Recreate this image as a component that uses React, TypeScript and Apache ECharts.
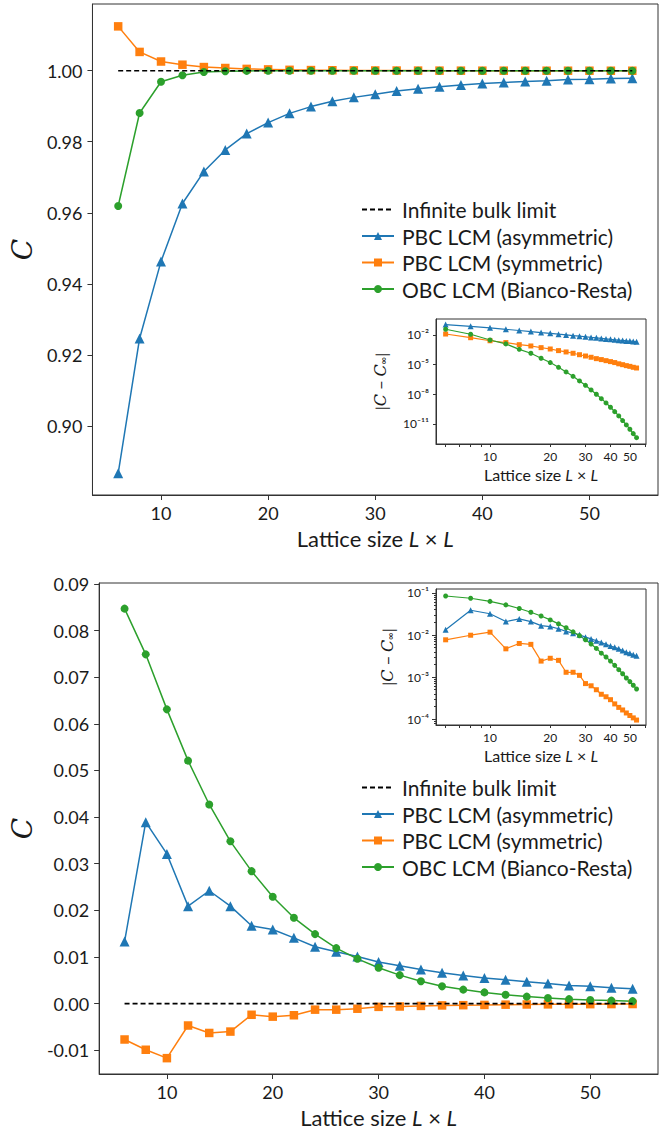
import React, { useEffect, useRef } from "react";
import * as echarts from "echarts";

// ---------- data ----------
const L = [6, 8, 10, 12, 14, 16, 18, 20, 22, 24, 26, 28, 30, 32, 34, 36, 38, 40, 42, 44, 46, 48, 50, 52, 54];

const C_INF_TOP = 1;
const topAsymDev = [0.1134, 0.0754, 0.0537, 0.0374, 0.0284, 0.0223, 0.0177, 0.0146, 0.012, 0.0101, 0.0086, 0.0075, 0.0066, 0.0057, 0.0051, 0.0045, 0.004, 0.0036, 0.0033, 0.003, 0.0028, 0.0025, 0.0024, 0.0022, 0.0021];
const topSymDev = [0.0125, 0.0053, 0.0026, 0.0017, 0.00104, 0.00077, 0.00052, 0.00038, 0.00026, 0.00019, 0.00014, 0.0001, 7.4e-5, 5.5e-5, 4.0e-5, 3.2e-5, 2.5e-5, 2.0e-5, 1.6e-5, 1.2e-5, 9.8e-6, 7.8e-6, 6.6e-6, 5.3e-6, 4.5e-6];
const topObcDev = [0.0381, 0.0119, 0.0031, 1.25e-3, 3.5e-4, 1.4e-4, 4.4e-5, 1.6e-5, 5.3e-6, 1.8e-6, 6.5e-7, 2.2e-7, 7.9e-8, 2.7e-8, 9.8e-9, 3.5e-9, 1.3e-9, 4.7e-10, 1.7e-10, 6.2e-11, 2.1e-11, 7.6e-12, 2.8e-12, 1.0e-12, 3.9e-13];

// Bottom panel: bulk limit C_inf = 0
const C_INF_BOTTOM = 0;
const bottomAsym = [0.0133, 0.0389, 0.0321, 0.0209, 0.0242, 0.0209, 0.0167, 0.0159, 0.0141, 0.0122, 0.0111, 0.0101, 0.0089, 0.0081, 0.0073, 0.0066, 0.006, 0.0055, 0.0051, 0.0047, 0.0043, 0.0039, 0.0037, 0.0034, 0.0032];
const bottomSym = [-0.0077, -0.0099, -0.0117, -0.0047, -0.0063, -0.006, -0.0024, -0.0028, -0.0025, -0.0013, -0.0013, -0.0011, -0.0007, -0.00062, -0.0005, -0.00039, -0.00034, -0.00029, -0.00023, -0.00019, -0.000165, -0.00014, -0.000122, -0.000107, -0.000095];
const bottomObc = [0.0847, 0.0749, 0.0631, 0.0521, 0.0427, 0.0348, 0.0284, 0.0229, 0.0184, 0.0149, 0.0119, 0.0096, 0.0077, 0.0061, 0.0048, 0.0037, 0.003, 0.0024, 0.0019, 0.0015, 0.0012, 0.00095, 0.00078, 0.00064, 0.00052];

// tick labels
const mainXTicks = [10, 20, 30, 40, 50];
const topYTicks = [0.9, 0.92, 0.94, 0.96, 0.98, 1.0];
const bottomYTicks = [-0.01, 0, 0.01, 0.02, 0.03, 0.04, 0.05, 0.06, 0.07, 0.08, 0.09];
const insetXLabels = [10, 20, 30, 40, 50];
const insetXTicks = [6, 7, 8, 9, 10, 20, 30, 40, 50, 60];
const topInsetYTicks = [1e-11, 1e-8, 1e-5, 1e-2];
const bottomInsetYTicks = [1e-4, 1e-3, 1e-2, 1e-1];

const NAMES = ["Infinite bulk limit", "PBC LCM (asymmetric)", "PBC LCM (symmetric)", "OBC LCM (Bianco-Resta)"];
const COLORS = ["#000000", "#1f77b4", "#ff7f0e", "#2ca02c"];

// ---------- helpers ----------
const FONT = "Lato";
const TXT = "#1a1a1a";
const AX = "#333333";
const SUP: Record<string, string> = { "-": "⁻", "0": "⁰", "1": "¹", "2": "²", "3": "³", "4": "⁴", "5": "⁵", "6": "⁶", "7": "⁷", "8": "⁸", "9": "⁹" };
const pow10Label = (v: number) => "10" + String(Math.round(Math.log10(v))).split("").map((c) => SUP[c] || c).join("");

const minorLogTicks = (() => {
  const out: number[] = [];
  for (let k = -5; k <= -1; k++) for (let m = 2; m <= 9; m++) out.push(m * Math.pow(10, k));
  return out;
})();

const xName = "Lattice size {i|L} × {i|L}";

function mainXAxis(gridIndex: number) {
  return {
    type: "value",
    gridIndex,
    min: 3.6,
    max: 56.4,
    axisLine: { show: true, onZero: false, lineStyle: { color: AX, width: 1 } },
    axisTick: { show: true, length: 5, customValues: mainXTicks, lineStyle: { color: AX } },
    axisLabel: { customValues: mainXTicks, fontSize: 18, color: TXT, margin: 9, fontFamily: FONT },
    splitLine: { show: false },
    name: xName,
    nameLocation: "middle",
    nameGap: 32,
    nameTextStyle: { fontSize: 22, color: TXT, fontFamily: FONT, rich: { i: { fontSize: 22, fontStyle: "italic", color: TXT, fontFamily: FONT } } },
  };
}

function insetXAxis(gridIndex: number) {
  return {
    type: "log",
    gridIndex,
    min: 5.37,
    max: 60.2,
    axisLine: { show: true, onZero: false, lineStyle: { color: AX, width: 1 } },
    axisTick: { show: true, length: 3, customValues: insetXTicks, lineStyle: { color: AX } },
    axisLabel: { customValues: insetXLabels, fontSize: 12, color: TXT, margin: 6, fontFamily: FONT, formatter: (v: number) => String(Math.round(v)) },
    splitLine: { show: false },
    minorTick: { show: false },
    name: xName,
    nameLocation: "middle",
    nameGap: 22,
    nameTextStyle: { fontSize: 16, color: TXT, fontFamily: FONT, rich: { i: { fontSize: 16, fontStyle: "italic", color: TXT, fontFamily: FONT } } },
  };
}

const yNameMain = {
  name: "C",
  nameLocation: "middle",
  nameRotate: 90,
  nameGap: 56,
  nameTextStyle: { fontSize: 28, fontStyle: "italic", color: TXT, fontFamily: "DejaVu Serif" },
};

const yNameInset = {
  name: "|{i|C} − {i|C}{s|∞}|",
  nameLocation: "middle",
  nameRotate: 90,
  nameTextStyle: {
    fontSize: 16,
    color: TXT,
    fontFamily: FONT,
    rich: {
      i: { fontSize: 16, fontStyle: "italic", fontFamily: "DejaVu Serif", color: TXT },
      s: { fontSize: 10, color: TXT, fontFamily: FONT, verticalAlign: "bottom", padding: [6, 0, 0, 0] },
    },
  },
};

function lineSeries(name: string, idx: number, xi: number, yi: number, data: number[][], inset: boolean) {
  const sym = ["none", "triangle", "rect", "circle"][idx];
  const size = inset ? [0, 6, 5, 5][idx] : [0, 10, 8.5, 8][idx];
  return {
    type: "line",
    name,
    xAxisIndex: xi,
    yAxisIndex: yi,
    data,
    symbol: sym,
    symbolSize: size,
    showSymbol: idx !== 0,
    z: idx === 0 ? 4 : 3,
    lineStyle: idx === 0 ? { color: COLORS[0], width: 1.6, type: [5, 3] } : { color: COLORS[idx], width: inset ? 1.2 : 1.5 },
    itemStyle: { color: COLORS[idx] },
    emphasis: { disabled: true },
    clip: false,
  };
}

function legendOpt(top: number) {
  return {
    orient: "vertical",
    left: 356,
    top,
    itemWidth: 32,
    itemHeight: 10,
    itemGap: 5.5,
    selectedMode: false,
    textStyle: { fontSize: 21, color: TXT, fontFamily: FONT, padding: [0, 0, 0, 3] },
    data: NAMES.map((n, i) => (i === 0 ? { name: n, itemStyle: { opacity: 0 } } : { name: n })),
  };
}

export default function App() {
  const ref = useRef<HTMLDivElement>(null);
  useEffect(() => {
    if (!ref.current) return;
    const chart = echarts.init(ref.current, undefined, { renderer: "svg" });

    const topMain = [
      L.map((l, i) => [l, C_INF_TOP - topAsymDev[i]]),
      L.map((l, i) => [l, C_INF_TOP + topSymDev[i]]),
      L.map((l, i) => [l, C_INF_TOP - topObcDev[i]]),
    ];
    const topInset = topMain.map((s) => s.map(([l, v]) => [l, Math.abs(v - C_INF_TOP)]));
    const botMain = [bottomAsym, bottomSym, bottomObc].map((arr) => L.map((l, i) => [l, arr[i]]));
    const botInset = botMain.map((s) => s.map(([l, v]) => [l, Math.abs(v - C_INF_BOTTOM)]));
    const lastL = L[L.length - 1];

    const series: any[] = [];
    // top main
    series.push(lineSeries(NAMES[0], 0, 0, 0, [[L[0], C_INF_TOP], [lastL, C_INF_TOP]], false));
    topMain.forEach((d, k) => series.push(lineSeries(NAMES[k + 1], k + 1, 0, 0, d, false)));
    topInset.forEach((d, k) => series.push(lineSeries(NAMES[k + 1], k + 1, 1, 1, d, true)));
    // bottom main
    series.push(lineSeries(NAMES[0], 0, 2, 2, [[L[0], C_INF_BOTTOM], [lastL, C_INF_BOTTOM]], false));
    botMain.forEach((d, k) => series.push(lineSeries(NAMES[k + 1], k + 1, 2, 2, d, false)));
    botInset.forEach((d, k) => series.push(lineSeries(NAMES[k + 1], k + 1, 3, 3, d, true)));

    const gridBase = { show: true, borderColor: AX, borderWidth: 1, backgroundColor: "#ffffff" };

    chart.setOption({
      animation: false,
      backgroundColor: "#ffffff",
      grid: [
        { ...gridBase, left: 92, top: 4, width: 566, height: 491 },
        { ...gridBase, left: 436, top: 319, width: 210, height: 125 },
        { ...gridBase, left: 92, top: 583, width: 566, height: 491 },
        { ...gridBase, left: 436, top: 589, width: 210, height: 136 },
      ],
      legend: [legendOpt(194), legendOpt(772)],
      xAxis: [mainXAxis(0), insetXAxis(1), mainXAxis(2), insetXAxis(3)],
      yAxis: [
        {
          type: "value",
          gridIndex: 0,
          min: 0.8805,
          max: 1.0188,
          axisLine: { show: true, onZero: false, lineStyle: { color: AX, width: 1 } },
          axisTick: { show: true, length: 5, customValues: topYTicks, lineStyle: { color: AX } },
          axisLabel: { customValues: topYTicks, fontSize: 18, color: TXT, margin: 10, fontFamily: FONT, formatter: (v: number) => v.toFixed(2) },
          splitLine: { show: false },
          ...yNameMain,
        },
        {
          type: "log",
          gridIndex: 1,
          min: Math.pow(10, -13.05),
          max: Math.pow(10, -0.38),
          axisLine: { show: true, onZero: false, lineStyle: { color: AX, width: 1 } },
          axisTick: { show: true, length: 3, customValues: topInsetYTicks, lineStyle: { color: AX } },
          axisLabel: { customValues: topInsetYTicks, fontSize: 12, color: TXT, margin: 7, fontFamily: FONT, formatter: pow10Label },
          splitLine: { show: false },
          minorTick: { show: false },
          ...yNameInset,
          nameGap: 48,
        },
        {
          type: "value",
          gridIndex: 2,
          min: -0.0151,
          max: 0.0902,
          axisLine: { show: true, onZero: false, lineStyle: { color: AX, width: 1 } },
          axisTick: { show: true, length: 5, customValues: bottomYTicks, lineStyle: { color: AX } },
          axisLabel: { customValues: bottomYTicks, fontSize: 18, color: TXT, margin: 10, fontFamily: FONT, formatter: (v: number) => v.toFixed(2) },
          splitLine: { show: false },
          ...yNameMain,
        },
        {
          type: "log",
          gridIndex: 3,
          position: "left",
          min: Math.pow(10, -4.14),
          max: Math.pow(10, -0.905),
          axisLine: { show: true, onZero: false, lineStyle: { color: AX, width: 1 } },
          axisTick: { show: true, length: 4, customValues: bottomInsetYTicks, lineStyle: { color: AX } },
          axisLabel: { customValues: bottomInsetYTicks, fontSize: 12, color: TXT, margin: 7, fontFamily: FONT, formatter: pow10Label },
          splitLine: { show: false },
          minorTick: { show: false },
          ...yNameInset,
          nameGap: 41,
        },
        {
          type: "log",
          gridIndex: 3,
          position: "left",
          offset: 0,
          min: Math.pow(10, -4.14),
          max: Math.pow(10, -0.905),
          axisLine: { show: false, onZero: false },
          axisTick: { show: true, length: 2, customValues: minorLogTicks, lineStyle: { color: AX } },
          axisLabel: { show: false },
          splitLine: { show: false },
          minorTick: { show: false },
        },
      ],
      series,
    });
    return () => chart.dispose();
  }, []);
  return <div ref={ref} style={{ position: "absolute", left: 0, top: 0, width: 672, height: 1132 }} />;
}
